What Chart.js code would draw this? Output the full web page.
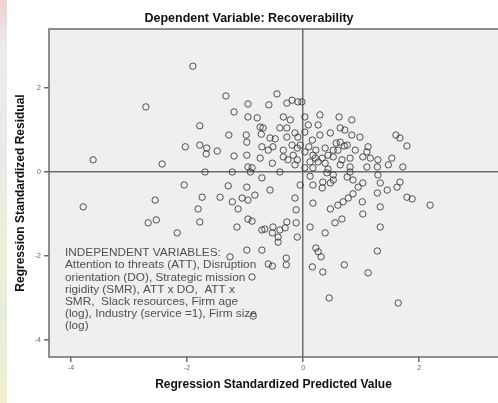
<!DOCTYPE html>
<html>
<head>
<meta charset="utf-8">
<title>Recoverability residuals</title>
<script src="https://cdn.jsdelivr.net/npm/chart.js@4.4.1/dist/chart.umd.min.js"></script>
<style>
  html, body { margin: 0; padding: 0; background: #fff; }
  #wrap { position: relative; width: 498px; height: 403px; overflow: hidden; }
  #wrap canvas { position: absolute; left: 0; top: 0; }
  #edge {
    position: absolute; left: 0; top: 0; width: 7px; height: 403px;
    background: linear-gradient(to bottom, #f1cfcf 0%, #ececec 12%, #e9e9e9 40%, #f0f0d2 62%, #e3eedb 78%, #f3efcc 100%);
  }
</style>
</head>
<body>
<div id="wrap">
  <canvas id="residualChart" width="498" height="403"></canvas>
  <div id="edge"></div>
</div>
<script>
// Standardized predicted values (x) and standardized residuals (y), one entry per firm
const predicted = [
  -1.90, -2.71, -3.62, -2.43, -3.79, -2.55, -2.67, -2.53, -2.17, -2.05, -2.03,
  -1.33, -0.95, -0.59, -0.45, -0.28, -0.19, -0.09, -1.19, -0.95, -0.79, -0.34,
  -1.78, -0.74, -0.69, -0.40, -0.28, -1.28, -0.98, -0.97, -0.72, -0.57, -0.48,
  -0.28, -0.14, -0.09, -1.78, -1.66, -1.48, -1.67, -0.71, -0.52, -0.34, -0.19,
  -0.10, -1.19, -0.97, -0.74, -0.53, -0.34, -0.17, -0.10, -0.14, -0.95, -0.88,
  -1.69, -1.22, -0.91, -0.40,
  -0.02, 0.03, 0.09, 0.29, 0.62, 0.84, 0.64, 0.29, 0.47, 0.84, 0.98, 0.16,
  0.64, 0.76, 1.60, 1.67, 1.79, 0.38, 0.52, 1.12, 1.10, 0.03, 0.17, 0.12,
  0.26, 0.38, 0.52, 0.67, 0.81, 1.03, 1.16, 1.29, 1.53, 0.64, 0.81, 1.10,
  1.28, 1.47, 1.72, 0.03, 0.17, 0.43, 0.57, 0.71, 0.21, 0.33, 0.10,
  0.22, 0.43, 0.60, 0.90, -0.05, -0.26, -0.60, 0.03, -0.22, 0.72, 0.26,
  -1.29, -0.97, -1.74, -1.43, -1.22, -1.05, -0.95, -0.83, -1.81, -1.12, -1.78,
  -0.95, -0.88, -1.14, -0.71, -0.66, -0.52, -0.53, -0.40, -0.43, -0.28, -0.31,
  -0.43, -0.14, -0.12, -0.12, -0.10, -0.97, -0.71, -1.26, -0.29, -0.29, -0.60,
  -0.53, -0.88, -0.05, -0.57, -0.71,
  0.12, 0.17, 0.34, 0.47, 0.52, 0.33, 0.41, 0.52, 0.76, 0.81, 0.86, 0.95,
  1.03, 1.29, 1.33, 1.67, 1.62, 1.28, 1.45, 0.86, 0.78, 0.69, 0.60, 1.79,
  1.88, 2.19, 0.17, 0.47, 1.02, 1.03, 1.33, 0.67, 0.55, 1.33, 0.12, 0.38,
  0.22, 0.26, 0.31, 1.28,
  0.16, 0.34, 0.71, 1.12, 0.45, 1.64, -0.86
];
const residual = [
  2.52, 1.55, 0.29, 0.19, -0.83, -0.67, -1.21, -1.14, -1.45, -0.31, 0.60,
  1.81, 1.62, 1.60, 1.86, 1.64, 1.71, 1.67, 1.43, 1.31, 1.29, 1.31,
  1.10, 1.07, 1.05, 1.05, 1.05, 0.88, 0.88, 0.71, 0.90, 0.81, 0.79,
  0.83, 0.93, 0.83, 0.64, 0.57, 0.50, 0.43, 0.60, 0.60, 0.52, 0.64,
  0.57, 0.38, 0.40, 0.33, 0.21, 0.36, 0.40, 0.29, 0.17, 0.12, 0.10,
  0.00, 0.00, 0.00, 0.00,
  1.67, 1.31, 1.12, 1.36, 1.31, 1.24, 1.05, 0.88, 0.93, 0.88, 0.83, 0.76,
  0.71, 0.64, 0.88, 0.81, 0.62, 0.57, 0.52, 0.60, 0.48, 0.48, 0.40, 0.24,
  0.24, 0.21, 0.36, 0.29, 0.33, 0.36, 0.33, 0.29, 0.33, 0.17, 0.12, 0.12,
  0.12, 0.17, 0.12, 0.10, 0.10, 0.07, 0.69, 0.62, 0.33, 0.33, 0.60,
  0.52, 0.40, 0.52, 0.52, 0.64, 0.29, 0.52, 0.95, 1.24, 1.00, 1.12,
  -0.33, -0.36, -0.60, -0.60, -0.71, -0.62, -0.67, -0.55, -0.88, -0.88, -1.19,
  -1.12, -1.17, -1.31, -1.38, -1.36, -1.31, -1.45, -1.38, -1.55, -1.19, -1.33,
  -1.67, -0.62, -0.90, -1.21, -1.55, -1.86, -1.86, -2.02, -2.05, -2.21, -2.19,
  -2.24, -2.50, -0.31, -0.43, -0.14,
  -0.10, -0.31, -0.24, -0.26, -0.19, -0.38, -0.02, -0.07, -0.12, 0.00, -0.19, -0.36,
  -0.26, -0.07, -0.26, -0.24, -0.36, -0.50, -0.43, -0.52, -0.62, -0.71, -0.79, -0.60,
  -0.64, -0.79, -0.74, -0.88, -0.71, -1.00, -0.83, -1.12, -1.21, -1.31, -1.31, -1.45,
  -1.81, -1.90, -2.02, -1.88,
  -2.26, -2.38, -2.21, -2.40, -3.00, -3.12, -3.43
];
const xTicks = [-4, -2, 0, 2];
const yTicks = [-4, -2, 0, 2];
const xRange = [-4.38, 3.36];
const yRange = [-4.405, 3.405];
const noteLines = [
  'INDEPENDENT VARIABLES:',
  'Attention to threats (ATT), Disruption',
  'orientation (DO), Strategic mission',
  'rigidity (SMR), ATT x DO,  ATT x',
  'SMR,  Slack resources, Firm age',
  '(log), Industry (service =1), Firm size',
  '(log)'
];

const points = predicted.map((x, i) => ({ x: x, y: residual[i] }));
const frameColor = '#6c6c6c';

// plot panel: grey fill, frame (open on the right, it runs off the page) and the list of predictors
const panel = {
  id: 'panel',
  beforeDraw(chart) {
    const { ctx, chartArea: a } = chart;
    ctx.save();
    ctx.fillStyle = '#efefef';
    ctx.fillRect(a.left, a.top, chart.width - a.left, a.bottom - a.top);
    ctx.restore();
  },
  beforeDatasetsDraw(chart) {
    const { ctx, chartArea: a } = chart;
    ctx.save();
    ctx.strokeStyle = frameColor;
    ctx.lineWidth = 1.5;
    ctx.beginPath();
    ctx.moveTo(chart.width, a.top);
    ctx.lineTo(a.left, a.top);
    ctx.lineTo(a.left, a.bottom);
    ctx.lineTo(chart.width, a.bottom);
    ctx.stroke();
    ctx.fillStyle = '#505050';
    ctx.font = "11.8px 'Liberation Sans', Arial, sans-serif";
    ctx.textBaseline = 'middle';
    noteLines.forEach((line, i) => {
      ctx.fillText(line, a.left + 16, a.top + 224 + i * 12.2);
    });
    ctx.restore();
  }
};

function zeroLine(c) {
  return c.tick && c.tick.value === 0 ? frameColor : 'rgba(0,0,0,0)';
}

Chart.defaults.font.family = "'Liberation Sans', Arial, sans-serif";

new Chart(document.getElementById('residualChart'), {
  type: 'scatter',
  data: {
    datasets: [{
      data: points,
      pointRadius: 3.2,
      pointHoverRadius: 3.2,
      borderWidth: 1,
      borderColor: 'rgba(55, 55, 55, 0.85)',
      backgroundColor: 'rgba(0, 0, 0, 0)'
    }]
  },
  options: {
    responsive: false,
    animation: false,
    devicePixelRatio: 1,
    layout: { padding: 0, autoPadding: false },
    plugins: {
      legend: { display: false },
      tooltip: { enabled: false },
      title: {
        display: true,
        text: 'Dependent Variable: Recoverability',
        color: '#111',
        font: { size: 12.5, weight: 'bold' },
        padding: { top: 11, bottom: 3 }
      }
    },
    scales: {
      x: {
        type: 'linear',
        min: xRange[0],
        max: xRange[1],
        afterBuildTicks: s => { s.ticks = xTicks.map(v => ({ value: v })); },
        afterFit: s => { s.height = 46; },
        border: { display: false },
        grid: { color: zeroLine, lineWidth: 1.5, tickColor: frameColor, tickLength: 5 },
        ticks: { color: '#666', font: { size: 7 }, padding: 2, maxRotation: 0 },
        title: {
          display: true,
          text: 'Regression Standardized Predicted Value',
          color: '#111',
          font: { size: 12, weight: 'bold' },
          padding: { top: 0, bottom: 11 }
        }
      },
      y: {
        type: 'linear',
        min: yRange[0],
        max: yRange[1],
        afterBuildTicks: s => { s.ticks = yTicks.map(v => ({ value: v })); },
        afterFit: s => { s.width = 49; },
        border: { display: false },
        grid: { color: zeroLine, lineWidth: 1.5, tickColor: frameColor, tickLength: 5 },
        ticks: { color: '#666', font: { size: 7 }, padding: 3 },
        title: {
          display: true,
          text: 'Regression Standardized Residual',
          color: '#111',
          font: { size: 12, weight: 'bold' },
          padding: { top: 13, bottom: 0 }
        }
      }
    }
  },
  plugins: [panel]
});
</script>
</body>
</html>
